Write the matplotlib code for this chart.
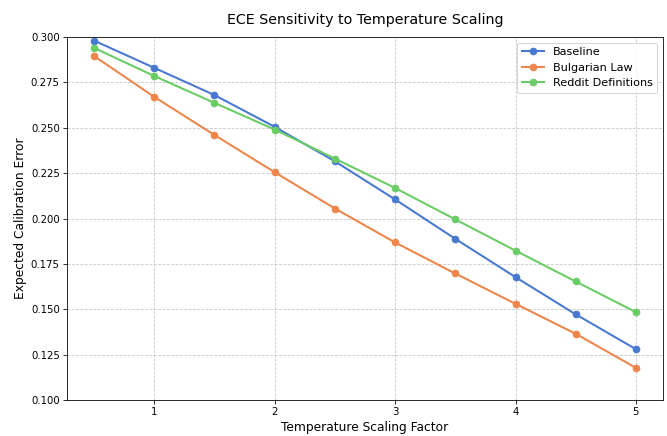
import matplotlib
matplotlib.use('Agg')
import matplotlib.pyplot as plt
import seaborn as sns

temperatures = [0.5, 1.0, 1.5, 2.0, 2.5, 3.0, 3.5, 4.0, 4.5, 5.0]
baseline = [0.298, 0.283, 0.268, 0.2505, 0.2315, 0.2105, 0.1888, 0.1677, 0.1472, 0.1280]
bulgarian_law = [0.2895, 0.267, 0.246, 0.2255, 0.2055, 0.1868, 0.1697, 0.1530, 0.1365, 0.1177]
reddit_defs = [0.294, 0.2785, 0.2637, 0.249, 0.2330, 0.2168, 0.1995, 0.1823, 0.1653, 0.1484]

palette = sns.color_palette('muted')

DPI = 73.3
fig, ax = plt.subplots(figsize=(667 / DPI, 436 / DPI), dpi=DPI)
ax.plot(temperatures, baseline, marker='o', markersize=6.5, linewidth=2, color=palette[0], label='Baseline')
ax.plot(temperatures, bulgarian_law, marker='o', markersize=6.5, linewidth=2, color=palette[1], label='Bulgarian Law')
ax.plot(temperatures, reddit_defs, marker='o', markersize=6.5, linewidth=2, color=palette[2], label='Reddit Definitions')

ax.set_ylim(0.1, 0.3)
ax.set_title('ECE Sensitivity to Temperature Scaling', fontsize=14, pad=13)
ax.set_xlabel('Temperature Scaling Factor', fontsize=12)
ax.set_ylabel('Expected Calibration Error', fontsize=12)
ax.grid(True, linestyle='--', alpha=0.7)
ax.legend(fontsize=11)

fig.subplots_adjust(left=67 / 667, right=663 / 667, top=1 - 37 / 436, bottom=1 - 400 / 436)
fig.savefig('out.png', dpi=DPI)
